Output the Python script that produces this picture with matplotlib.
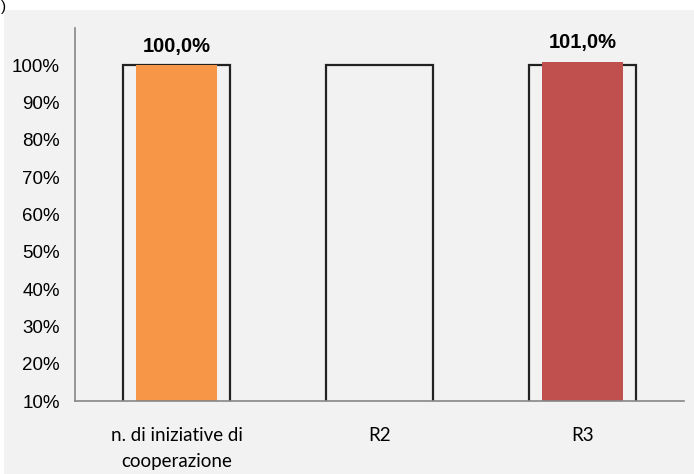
import matplotlib
matplotlib.use("Agg")
import matplotlib.pyplot as plt
from matplotlib.patches import Rectangle
import numpy as np

categories = ["n. di iniziative di\ncooperazione", "R2", "R3"]
target_values = [1.00, 1.00, 1.00]
actual_values = [1.00, np.nan, 1.01]
value_labels = ["100,0%", "", "101,0%"]
bar_colors = ["#F79646", "#C0504D", "#C0504D"]
y_ticks = [0.1, 0.2, 0.3, 0.4, 0.5, 0.6, 0.7, 0.8, 0.9, 1.0]
y_tick_labels = ["10%", "20%", "30%", "40%", "50%", "60%", "70%", "80%", "90%", "100%"]

fig = plt.figure(figsize=(6.94, 4.74), dpi=100)
fig.patch.set_facecolor("white")
fig.patches.append(Rectangle((4 / 694, 0), 1, (474 - 10) / 474, transform=fig.transFigure,
                             facecolor="#F2F2F2", edgecolor="none", zorder=-10))
fig.text(0.002, 1.0, ")", fontsize=11, family=["Liberation Sans", "DejaVu Sans"],
         va="top", ha="left")

ax = fig.add_axes([75 / 694, 1 - 401 / 474, (684 - 75) / 694, (401 - 28) / 474])
ax.set_facecolor("none")
ax.set_zorder(5)

x = np.arange(len(categories))
ax.bar(x, target_values, width=0.53, bottom=0, color="none", edgecolor="#222222",
       linewidth=1.6, zorder=2)
vals = np.array(actual_values, dtype=float)
ax.bar(x, np.nan_to_num(vals), width=0.40, color=bar_colors, edgecolor="none", zorder=3)

for xi, v, lab in zip(x, vals, value_labels):
    if lab and not np.isnan(v):
        ax.annotate(lab, (xi, v), xytext=(0, 7), textcoords="offset points",
                    ha="center", va="bottom", fontsize=14.5, fontweight="bold",
                    family=["Liberation Sans", "DejaVu Sans"])

ax.set_xlim(-0.5, len(categories) - 0.5)
ax.set_ylim(0.1, 1.1)
ax.set_yticks(y_ticks)
ax.set_yticklabels(y_tick_labels, family=["Liberation Sans", "DejaVu Sans"], fontsize=13.5)
ax.set_xticks(x)
ax.set_xticklabels(categories, family=["Lato", "DejaVu Sans"], fontsize=13.5, linespacing=1.65)
ax.tick_params(axis="both", length=0)
ax.tick_params(axis="x", pad=19)
ax.tick_params(axis="y", pad=11)
for s in ["top", "right"]:
    ax.spines[s].set_visible(False)
for s in ["left", "bottom"]:
    ax.spines[s].set_color("#868686")
    ax.spines[s].set_linewidth(1.2)
    ax.spines[s].set_zorder(4)

fig.savefig("out.png", dpi=100)
